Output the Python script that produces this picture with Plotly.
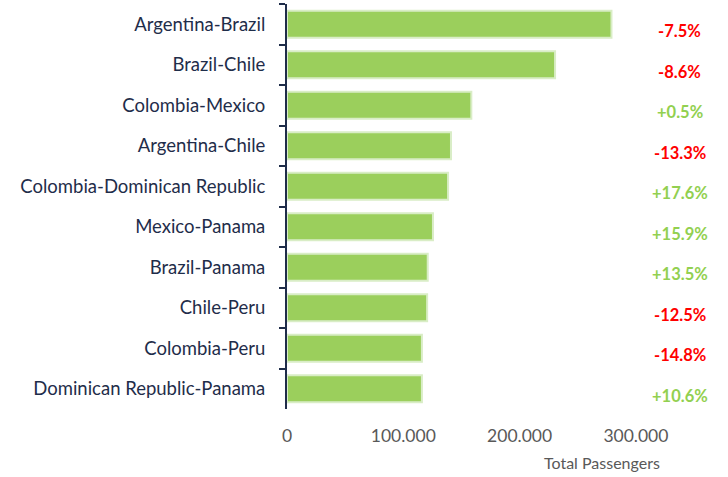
import plotly.graph_objects as go

routes = ["Argentina-Brazil", "Brazil-Chile", "Colombia-Mexico", "Argentina-Chile",
          "Colombia-Dominican Republic", "Mexico-Panama", "Brazil-Panama", "Chile-Peru",
          "Colombia-Peru", "Dominican Republic-Panama"]
passengers = [279000, 230500, 158500, 141000, 138500, 125500, 121000, 120500, 116000, 116000]
changes = ["-7.5%", "-8.6%", "+0.5%", "-13.3%", "+17.6%", "+15.9%", "+13.5%", "-12.5%", "-14.8%", "+10.6%"]

NAVY = "#1F2D4A"
GREEN_BAR = "#9BCF5C"
GREEN_TXT = "#92D050"
RED = "#FF0000"
FONT = "Lato, Open Sans, sans-serif"

fig = go.Figure(go.Bar(
    y=routes, x=passengers, orientation="h",
    marker=dict(color=GREEN_BAR, line=dict(color="#D9EDC6", width=2)),
    hoverinfo="skip",
))

annotations = []
for r, c in zip(routes, changes):
    annotations.append(dict(
        x=0.956, xref="paper", y=r, yref="y", text=f"<b>{c}</b>", showarrow=False,
        xanchor="center", yanchor="middle", yshift=-7,
        font=dict(family=FONT, size=16.5, color=RED if c.startswith("-") else GREEN_TXT),
    ))
annotations.append(dict(
    x=0.766, xref="paper", y=-0.131, yref="paper", text="Total Passengers",
    showarrow=False, xanchor="center", yanchor="middle",
    font=dict(family=FONT, size=16, color="#595959"),
))

fig.update_layout(
    width=728, height=477,
    margin=dict(l=287, r=30, t=4, b=68),
    plot_bgcolor="white", paper_bgcolor="white",
    bargap=0.33, showlegend=False,
    separators=",.",
    annotations=annotations,
    font=dict(family=FONT),
)
fig.update_xaxes(
    range=[0, 353400], showgrid=False, zeroline=False, showline=False,
    tickvals=[0, 100000, 200000, 300000], tickformat=",d",
    tickfont=dict(family=FONT, size=17.5, color="#595959"), ticks="", ticklabelstandoff=14,
)
fig.update_yaxes(
    autorange="reversed", showgrid=False, zeroline=False,
    showline=True, linecolor=NAVY, linewidth=2,
    ticks="outside", tickson="boundaries", ticklen=6, tickcolor=NAVY, tickwidth=2,
    tickfont=dict(family=FONT, size=18.5, color=NAVY), ticklabelstandoff=16,
)

fig.write_html("out.html", config={"displayModeBar": False},
               post_script="document.body.style.margin='0';")
